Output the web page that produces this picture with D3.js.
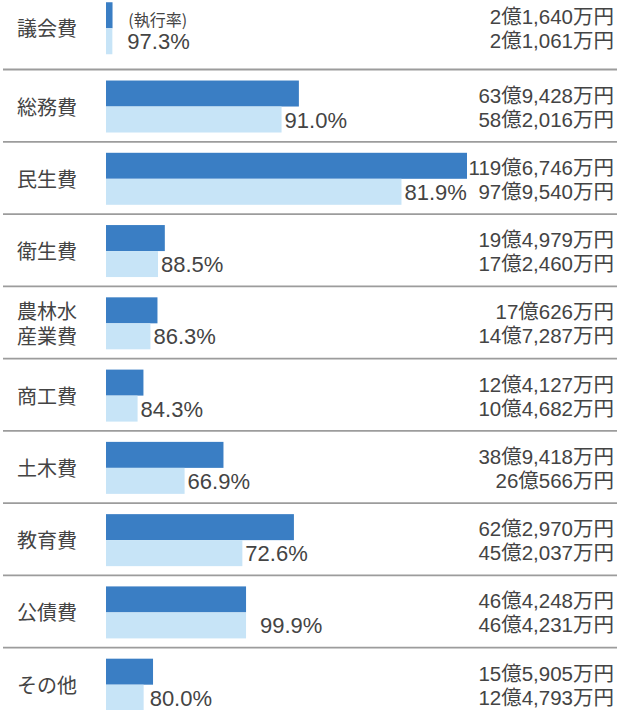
<!DOCTYPE html>
<html>
<head>
<meta charset="utf-8">
<script src="https://cdn.jsdelivr.net/npm/d3@7"></script>
<style>
  html, body { margin: 0; padding: 0; background: #fff; }
  svg { display: block; }
  text { font-family: "Liberation Sans", "Noto Sans CJK JP", sans-serif; fill: #444; }
  .cat { font-family: "Noto Sans CJK JP", sans-serif; }
</style>
</head>
<body>
<div id="chart"></div>
<script>
// 予算額 (dark) と 支出済額 (light), 単位: 万円
const categories = ["議会費", "総務費", "民生費", "衛生費", "農林水\n産業費", "商工費", "土木費", "教育費", "公債費", "その他"];
const budget = [21640, 639428, 1196746, 194979, 170626, 124127, 389418, 622970, 464248, 155905];
const spent = [21061, 582016, 979540, 172460, 147287, 104682, 260566, 452037, 464231, 124793];
const rates = [97.3, 91.0, 81.9, 88.5, 86.3, 84.3, 66.9, 72.6, 99.9, 80.0];
const rateNote = "(執行率)";

const width = 626, height = 710;

const rows = categories.map((c, i) => ({
    cat: c, budget: budget[i], spent: spent[i], rate: rates[i]
}));

const svg = d3.select("#chart").append("svg")
    .attr("width", width)
    .attr("height", height);

const x = d3.scaleLinear()
    .domain([0, d3.max(budget)])
    .range([106, 467]);

const y = d3.scaleBand()
    .domain(categories)
    .range([-2.75, -2.75 + 72.27 * categories.length]);

// first row sits a little higher in the original
const rowTop = d => y(d.cat) - (d.cat === categories[0] ? 6 : 0);

const fmtYen = v => {
    const oku = Math.floor(v / 10000), man = v % 10000;
    return oku + "億" + d3.format(",")(man) + "万円";
};
const fmtPct = d3.format(".1f");

// separator lines
svg.selectAll(".sep")
    .data(rows.slice(1))
    .join("line")
    .attr("class", "sep")
    .attr("x1", 3).attr("x2", 617)
    .attr("y1", d => y(d.cat)).attr("y2", d => y(d.cat))
    .attr("stroke", "#9c9c9c")
    .attr("stroke-width", 1.8);

// budget bars
svg.selectAll(".bar-b")
    .data(rows)
    .join("rect")
    .attr("class", "bar-b")
    .attr("x", x(0))
    .attr("y", d => rowTop(d) + 11)
    .attr("width", d => x(d.budget) - x(0))
    .attr("height", 26)
    .attr("fill", "#3a7ec4");

// spent bars
svg.selectAll(".bar-s")
    .data(rows)
    .join("rect")
    .attr("class", "bar-s")
    .attr("x", x(0))
    .attr("y", d => rowTop(d) + 37)
    .attr("width", d => x(d.spent) - x(0))
    .attr("height", 26)
    .attr("fill", "#c7e4f7");

// category labels
const cat = svg.selectAll(".cat")
    .data(rows)
    .join("text")
    .attr("class", "cat")
    .attr("font-size", 20)
    .attr("x", 17);
cat.each(function (d) {
    const lines = d.cat.split("\n");
    const t = d3.select(this);
    lines.forEach((l, j) => {
        t.append("tspan")
            .attr("x", 17)
            .attr("y", rowTop(d) + 38 + (j - (lines.length - 1) / 2) * 25)
            .attr("dy", "0.35em")
            .text(l);
    });
});

// rate labels
const pctNudge = { "議会費": 12, "公債費": 11, "その他": 3 };
svg.selectAll(".pct")
    .data(rows)
    .join("text")
    .attr("class", "pct")
    .attr("font-size", 22)
    .attr("x", d => x(d.spent) + 3 + (pctNudge[d.cat] || 0))
    .attr("y", d => rowTop(d) + 58)
    .text(d => fmtPct(d.rate) + "%");

svg.append("text")
    .attr("font-size", 16)
    .attr("x", x(spent[0]) + 16)
    .attr("y", rowTop(rows[0]) + 35)
    .style("font-family", "'Noto Sans CJK JP', sans-serif")
    .text(rateNote);

// amounts
svg.selectAll(".amt-b")
    .data(rows)
    .join("text")
    .attr("class", "amt-b")
    .attr("font-size", 20.5)
    .attr("text-anchor", "end")
    .attr("x", 614)
    .attr("y", d => rowTop(d) + 33)
    .text(d => fmtYen(d.budget));

svg.selectAll(".amt-s")
    .data(rows)
    .join("text")
    .attr("class", "amt-s")
    .attr("font-size", 20.5)
    .attr("text-anchor", "end")
    .attr("x", 614)
    .attr("y", d => rowTop(d) + 57)
    .text(d => fmtYen(d.spent));
</script>
</body>
</html>
